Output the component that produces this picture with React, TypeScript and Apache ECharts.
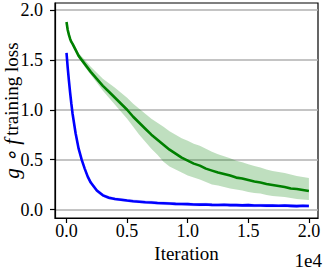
import React, { useEffect, useRef } from "react";
import * as echarts from "echarts";

const iterations = [0, 100, 200, 300, 400, 500, 750, 1000, 1250, 1500, 1750, 2000, 2500, 3000, 3500, 4000, 4500, 5000, 5500, 6000, 6500, 7000, 7500, 8000, 8500, 9000, 9500, 10000, 10500, 11000, 11500, 12000, 12500, 13000, 13500, 14000, 14500, 15000, 15500, 16000, 16500, 17000, 17500, 18000, 18500, 19000, 19500, 20000];

const greenMean = [1.88, 1.8, 1.75, 1.71, 1.68, 1.66, 1.6, 1.54, 1.5, 1.46, 1.42, 1.38, 1.31, 1.24, 1.18, 1.12, 1.06, 1.0, 0.93, 0.87, 0.81, 0.75, 0.7, 0.65, 0.6, 0.56, 0.52, 0.49, 0.46, 0.44, 0.41, 0.39, 0.37, 0.355, 0.34, 0.32, 0.31, 0.295, 0.28, 0.27, 0.255, 0.245, 0.235, 0.225, 0.21, 0.205, 0.195, 0.185];
const greenUpper = [1.89, 1.82, 1.77, 1.73, 1.7, 1.68, 1.63, 1.57, 1.535, 1.5, 1.465, 1.43, 1.37, 1.31, 1.265, 1.22, 1.17, 1.12, 1.06, 1.01, 0.96, 0.91, 0.87, 0.83, 0.785, 0.75, 0.715, 0.69, 0.66, 0.64, 0.61, 0.58, 0.555, 0.535, 0.515, 0.49, 0.475, 0.455, 0.435, 0.42, 0.4, 0.385, 0.375, 0.365, 0.35, 0.335, 0.325, 0.315];
const greenLower = [1.87, 1.79, 1.735, 1.695, 1.665, 1.64, 1.58, 1.515, 1.475, 1.43, 1.39, 1.35, 1.27, 1.19, 1.12, 1.05, 0.98, 0.91, 0.83, 0.75, 0.68, 0.61, 0.55, 0.48, 0.43, 0.4, 0.37, 0.34, 0.32, 0.3, 0.275, 0.25, 0.24, 0.225, 0.21, 0.2, 0.19, 0.175, 0.165, 0.16, 0.145, 0.135, 0.13, 0.125, 0.115, 0.105, 0.1, 0.095];

const blueMean = [1.57, 1.42, 1.29, 1.17, 1.06, 0.96, 0.765, 0.61, 0.5, 0.41, 0.33, 0.27, 0.19, 0.142, 0.118, 0.105, 0.098, 0.09, 0.083, 0.078, 0.073, 0.07, 0.065, 0.063, 0.06, 0.057, 0.055, 0.054, 0.05, 0.049, 0.051, 0.047, 0.046, 0.048, 0.044, 0.044, 0.042, 0.044, 0.04, 0.041, 0.039, 0.04, 0.038, 0.04, 0.037, 0.034, 0.038, 0.036];
const blueUpper = [1.58, 1.44, 1.31, 1.19, 1.08, 0.98, 0.79, 0.635, 0.52, 0.43, 0.35, 0.29, 0.21, 0.16, 0.135, 0.12, 0.115, 0.105, 0.1, 0.095, 0.09, 0.087, 0.082, 0.08, 0.076, 0.073, 0.071, 0.07, 0.066, 0.065, 0.067, 0.063, 0.062, 0.064, 0.06, 0.06, 0.058, 0.06, 0.056, 0.057, 0.055, 0.056, 0.054, 0.056, 0.053, 0.05, 0.054, 0.052];
const blueLower = [1.56, 1.4, 1.27, 1.15, 1.04, 0.94, 0.74, 0.59, 0.48, 0.39, 0.31, 0.25, 0.17, 0.125, 0.1, 0.09, 0.082, 0.075, 0.068, 0.062, 0.057, 0.053, 0.048, 0.046, 0.043, 0.04, 0.038, 0.038, 0.034, 0.033, 0.035, 0.031, 0.03, 0.032, 0.028, 0.028, 0.026, 0.028, 0.024, 0.025, 0.023, 0.024, 0.022, 0.024, 0.021, 0.018, 0.022, 0.02];

const xTicks = [0, 5000, 10000, 15000, 20000];
const yTicks = [0, 0.5, 1.0, 1.5, 2.0];

const FONT = "Liberation Serif";

function bandSeries(upper: number[], lower: number[], color: string) {
  return {
    type: "custom",
    silent: true,
    data: [[0]],
    renderItem: (_params: any, api: any) => {
      const pts: number[][] = [];
      for (let i = 0; i < iterations.length; i++) pts.push(api.coord([iterations[i], upper[i]]));
      for (let i = iterations.length - 1; i >= 0; i--) pts.push(api.coord([iterations[i], lower[i]]));
      return { type: "polygon", shape: { points: pts }, style: { fill: color, stroke: "none" } };
    },
  };
}

export default function App() {
  const ref = useRef<HTMLDivElement>(null);
  useEffect(() => {
    if (!ref.current) return;
    const chart = echarts.init(ref.current, null, { renderer: "svg" });
    const pairs = (ys: number[]) => iterations.map((x, i) => [x, ys[i]]);
    chart.setOption({
      animation: false,
      textStyle: { fontFamily: FONT, color: "#000" },
      grid: { left: 55, right: 5, top: 3, bottom: 53, show: true, borderColor: "#000", borderWidth: 1.2, backgroundColor: "transparent", outerBoundsMode: "none", containLabel: false },
      xAxis: {
        type: "value",
        min: -950,
        max: 20750,
        axisLine: { show: true, onZero: false, lineStyle: { color: "#000", width: 1.2 } },
        axisTick: { show: true, length: 5, customValues: xTicks, lineStyle: { color: "#000", width: 1.2 } },
        axisLabel: { customValues: xTicks, formatter: (v: number) => (v / 1e4).toFixed(1), color: "#000", fontSize: 18, fontFamily: FONT, margin: 4 },
        splitLine: { show: false },
        name: "Iteration",
        nameLocation: "middle",
        nameGap: 26,
        nameMoveOverlap: false,
        nameTextStyle: { color: "#000", fontSize: 19, fontFamily: FONT },
      },
      yAxis: {
        type: "value",
        min: -0.085,
        max: 2.07,
        axisLine: { show: true, onZero: false, lineStyle: { color: "#000", width: 1.2 } },
        axisTick: { show: true, length: 5, customValues: yTicks, lineStyle: { color: "#000", width: 1.2 } },
        axisLabel: { customValues: yTicks, formatter: (v: number) => v.toFixed(1), color: "#000", fontSize: 18, fontFamily: FONT, margin: 12 },
        splitLine: { show: true, lineStyle: { color: "#b0b0b0", width: 1.5 } },
        name: "{i|g ∘ f} {n|training loss}",
        nameLocation: "middle",
        nameGap: 33,
        nameRotate: 90,
        nameMoveOverlap: false,
        nameTextStyle: {
          color: "#000",
          fontFamily: FONT,
          rich: {
            i: { fontStyle: "italic", fontSize: 21, fontFamily: FONT, color: "#000" },
            n: { fontSize: 19, fontFamily: FONT, color: "#000" },
          },
        },
      },
      graphic: [
        { type: "text", right: 1, top: 251, style: { text: "1e4", fontSize: 19, fontFamily: FONT, fill: "#000" } },
      ],
      series: [
        bandSeries(greenUpper, greenLower, "rgba(0,128,0,0.25)"),
        bandSeries(blueUpper, blueLower, "rgba(0,0,255,0.2)"),
        { type: "line", data: pairs(greenMean), symbol: "none", lineStyle: { color: "#008000", width: 2.6 } },
        { type: "line", data: pairs(blueMean), symbol: "none", lineStyle: { color: "#0000ff", width: 2.6 } },
      ],
    });
    return () => chart.dispose();
  }, []);
  return <div ref={ref} style={{ width: 323, height: 271, position: "absolute", left: 0, top: 0 }} />;
}
